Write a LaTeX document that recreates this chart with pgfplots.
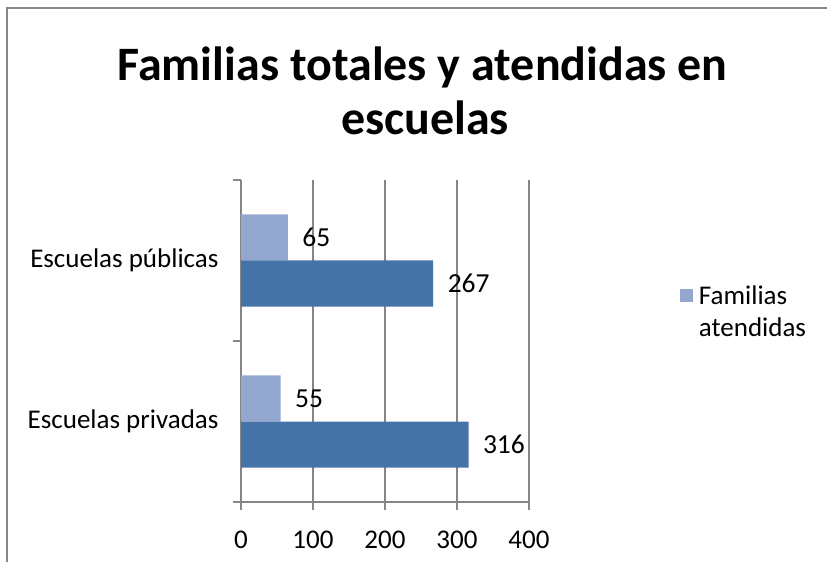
\documentclass[border=0pt]{standalone}
\usepackage{pgfplots}
\pgfplotsset{compat=1.18}
\usepackage{fontspec}
\setmainfont{Carlito}
\definecolor{darkb}{RGB}{69,114,167}
\definecolor{lightb}{RGB}{148,168,207}
\definecolor{gridc}{RGB}{134,134,134}
\begin{document}
\begin{tikzpicture}[x=1pt,y=1pt]
\path[use as bounding box] (0,0) rectangle (827,562);
\draw[gridc, line width=1.3pt] (6,554) -- (827,554);
\draw[gridc, line width=1.3pt] (7,554.65) -- (7,0);
\node[anchor=base, font=\bfseries\fontsize{48}{58}\selectfont, inner sep=0pt] at (422.5,481) {Familias totales y atendidas en};
\node[anchor=base, font=\bfseries\fontsize{48}{58}\selectfont, inner sep=0pt] at (425,427) {escuelas};
\begin{axis}[
  at={(241pt,60pt)}, anchor=south west,
  scale only axis, width=288pt, height=322pt,
  xmin=0, xmax=400, ymin=-0.5, ymax=1.5,
  xbar, bar width=46pt,
  xtick={0,100,200,300,400},
  xmajorgrids, grid style={gridc, line width=1.3pt},
  ytick={-0.5,0.5,1.5}, yticklabels={},
  extra y ticks={0,1},
  extra y tick labels={Escuelas privadas,Escuelas públicas},
  extra y tick style={major tick length=0pt, yticklabel style={xshift=-19pt}},
  axis x line*=bottom, axis y line*=left,
  axis line style={gridc, line width=1.3pt},
  tick style={gridc, line width=1.3pt},
  major tick length=8pt,
  tick align=outside,
  /pgf/number format/assume math mode=true,
  tick label style={font=\fontsize{27}{30}\selectfont, text=black},
  xticklabel style={yshift=-17pt},
  nodes near coords,
  nodes near coords style={font=\fontsize{27.5}{30}\selectfont, text=black, anchor=west, xshift=11pt},
  legend style={at={(1.527,0.685)}, anchor=north west, draw=none, fill=none,
    font=\fontsize{27}{32}\selectfont, cells={align=left}},
  legend image code/.code={\path[draw=none,fill=none] (0pt,-6.5pt) rectangle (13pt,6.5pt); \fill[#1,overlay] (-4pt,9.5pt) rectangle (9pt,22.5pt);},
  clip=false,
]
\addplot[fill=lightb, draw=none, bar shift=23pt] coordinates {(55,0) (65,1)};
\addlegendentry{Familias\\atendidas}
\addplot[fill=darkb, draw=none, bar shift=-23pt, forget plot] coordinates {(316,0) (267,1)};
\end{axis}
\end{tikzpicture}
\end{document}
